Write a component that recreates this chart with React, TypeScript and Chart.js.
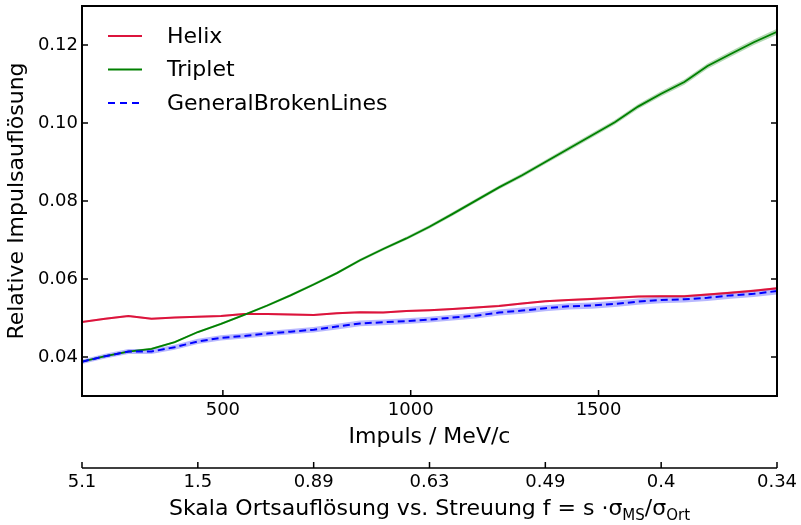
import React, { useEffect, useRef } from 'react';
import { Chart, registerables } from 'chart.js';

Chart.register(...registerables);

// ---- data ----
const momentum = [
  125, 186.7, 248.3, 310, 371.7, 433.3, 495, 556.7, 618.3, 680, 741.7,
  803.3, 865, 926.7, 988.3, 1050, 1111.7, 1173.3, 1235, 1296.7, 1358.3,
  1420, 1481.7, 1543.3, 1605, 1666.7, 1728.3, 1790, 1851.7, 1913.3, 1975,
];
const helix = [
  0.0490, 0.0498, 0.0505, 0.0498, 0.0501, 0.0503, 0.0505, 0.0510, 0.0510, 0.0509, 0.0508,
  0.0512, 0.0515, 0.0514, 0.0518, 0.0520, 0.0523, 0.0527, 0.0531, 0.0537, 0.0543,
  0.0546, 0.0549, 0.0552, 0.0555, 0.0556, 0.0556, 0.0560, 0.0565, 0.0570, 0.0576,
];
const triplet = [
  0.0388, 0.0402, 0.0414, 0.0421, 0.0438, 0.0464, 0.0485, 0.0508, 0.0532, 0.0558, 0.0586,
  0.0615, 0.0648, 0.0677, 0.0704, 0.0734, 0.0767, 0.0801, 0.0835, 0.0866, 0.0900,
  0.0934, 0.0968, 0.1002, 0.1042, 0.1075, 0.1105, 0.1146, 0.1177, 0.1207, 0.1234,
];
const gbl = [
  0.0388, 0.0402, 0.0414, 0.0414, 0.0425, 0.0440, 0.0449, 0.0454, 0.0460, 0.0465, 0.0470,
  0.0478, 0.0486, 0.0489, 0.0492, 0.0496, 0.0501, 0.0506, 0.0514, 0.0519, 0.0525,
  0.0530, 0.0532, 0.0536, 0.0542, 0.0546, 0.0548, 0.0552, 0.0558, 0.0562, 0.0569,
];
// relative uncertainty of each curve (shaded band)
const helixRelErr = 0.005;
const tripletRelErr = 0.006;
const gblRelErr = 0.015;

const yTicks = [0.04, 0.06, 0.08, 0.1, 0.12];
const xTicks = [500, 1000, 1500];
const fScaleLabels = ['5.1', '1.5', '0.89', '0.63', '0.49', '0.4', '0.34'];

const FONT = '"DejaVu Sans", "Liberation Sans", sans-serif';

const pts = (vals: number[], k = 0) => momentum.map((x, i) => ({ x, y: vals[i] * (1 + k) }));

const framePlugin = {
  id: 'framePlugin',
  afterDraw(chart: any) {
    const { ctx, chartArea: a, scales } = chart;
    const y = scales.y;
    const x = scales.x;
    const x2 = scales.x2;
    ctx.save();
    ctx.strokeStyle = '#000';
    // inward ticks
    ctx.lineWidth = 1.5;
    ctx.beginPath();
    yTicks.forEach((v) => {
      const py = y.getPixelForValue(v);
      ctx.moveTo(a.left, py);
      ctx.lineTo(a.left + 6, py);
      ctx.moveTo(a.right, py);
      ctx.lineTo(a.right - 6, py);
    });
    xTicks.forEach((v) => {
      const px = x.getPixelForValue(v);
      ctx.moveTo(px, a.bottom);
      ctx.lineTo(px, a.bottom - 6);
    });
    ctx.stroke();
    // frame
    ctx.lineWidth = 2;
    ctx.strokeRect(a.left, a.top, a.right - a.left, a.bottom - a.top);

    // secondary axis line and ticks
    const ly = x2.top;
    ctx.lineWidth = 1.5;
    ctx.beginPath();
    ctx.moveTo(x2.left, ly);
    ctx.lineTo(x2.right, ly);
    fScaleLabels.forEach((_, i) => {
      const px = x2.getPixelForValue(i);
      ctx.moveTo(px, ly);
      ctx.lineTo(px, ly - 6);
    });
    ctx.stroke();

    // secondary axis title with subscripts
    const parts = [
      { t: 'Skala Ortsauflösung vs. Streuung f = s ·σ', sub: false },
      { t: 'MS', sub: true },
      { t: '/σ', sub: false },
      { t: 'Ort', sub: true },
    ];
    const mainFont = `22px ${FONT}`;
    const subFont = `15px ${FONT}`;
    let total = 0;
    parts.forEach((p) => {
      ctx.font = p.sub ? subFont : mainFont;
      total += ctx.measureText(p.t).width;
    });
    let cx = (x2.left + x2.right) / 2 - total / 2;
    const base = x2.bottom - 10;
    ctx.fillStyle = '#000';
    ctx.textBaseline = 'alphabetic';
    ctx.textAlign = 'left';
    parts.forEach((p) => {
      ctx.font = p.sub ? subFont : mainFont;
      ctx.fillText(p.t, cx, p.sub ? base + 5 : base);
      cx += ctx.measureText(p.t).width;
    });

    // legend
    const items = [
      { label: 'Helix', color: '#dc143c', dash: [] as number[] },
      { label: 'Triplet', color: '#008000', dash: [] as number[] },
      { label: 'GeneralBrokenLines', color: '#0000ff', dash: [7, 5] },
    ];
    ctx.font = `22px ${FONT}`;
    ctx.textBaseline = 'middle';
    items.forEach((it, i) => {
      const yy = a.top + 30 + i * 33.5;
      ctx.strokeStyle = it.color;
      ctx.lineWidth = 1.8;
      ctx.setLineDash(it.dash);
      ctx.beginPath();
      ctx.moveTo(a.left + 26, yy);
      ctx.lineTo(a.left + 60, yy);
      ctx.stroke();
      ctx.setLineDash([]);
      ctx.fillStyle = '#000';
      ctx.fillText(it.label, a.left + 85, yy + 1);
    });
    ctx.restore();
  },
};

export default function App() {
  const ref = useRef<HTMLCanvasElement | null>(null);
  useEffect(() => {
    document.body.style.margin = '0';
    const canvas = ref.current;
    if (!canvas) return;
    const band = (vals: number[], rel: number, color: string, ord: number) => [
      { label: '_lo', data: pts(vals, -rel), borderWidth: 0, pointRadius: 0, fill: false, order: ord },
      { label: '_hi', data: pts(vals, rel), borderWidth: 0, pointRadius: 0, fill: '-1', backgroundColor: color, order: ord },
    ];
    const noGrid = { display: false, drawTicks: false };
    const chart = new Chart(canvas, {
      type: 'line',
      data: {
        datasets: [
          { label: 'Helix', data: pts(helix), borderColor: '#dc143c', borderWidth: 2, pointRadius: 0, fill: false, tension: 0, order: 3 },
          { label: 'Triplet', data: pts(triplet), borderColor: '#008000', borderWidth: 1.8, pointRadius: 0, fill: false, tension: 0, order: 2 },
          { label: 'GeneralBrokenLines', data: pts(gbl), borderColor: '#0000ff', borderWidth: 2, borderDash: [7, 4], pointRadius: 0, fill: false, tension: 0, order: 1 },
          ...band(helix, helixRelErr, 'rgba(220,20,60,0.3)', 12),
          ...band(triplet, tripletRelErr, 'rgba(0,128,0,0.3)', 11),
          ...band(gbl, gblRelErr, 'rgba(0,0,255,0.28)', 10),
        ] as any,
      },
      options: {
        animation: false,
        responsive: false,
        devicePixelRatio: 1,
        layout: { padding: { left: 0, right: 24, top: 6, bottom: 0 } },
        plugins: { legend: { display: false }, tooltip: { enabled: false } },
        scales: {
          x: {
            type: 'linear',
            position: 'bottom',
            min: 125,
            max: 1975,
            grid: noGrid,
            border: { display: false },
            afterBuildTicks: (s: any) => { s.ticks = xTicks.map((v) => ({ value: v })); },
            afterFit: (s: any) => { s.height = 72; s.paddingLeft = 0; s.paddingRight = 0; },
            ticks: { color: '#000', padding: 4, maxRotation: 0, font: { family: FONT, size: 18 }, callback: (v: any) => String(v) },
            title: { display: true, text: 'Impuls / MeV/c', color: '#000', font: { family: FONT, size: 22 }, padding: { top: 0, bottom: 18 } },
          },
          x2: {
            type: 'linear',
            position: 'bottom',
            weight: 1,
            min: 0,
            max: fScaleLabels.length - 1,
            grid: noGrid,
            border: { display: false },
            afterBuildTicks: (s: any) => { s.ticks = fScaleLabels.map((_, i) => ({ value: i })); },
            afterFit: (s: any) => { s.height = 57; s.paddingLeft = 0; s.paddingRight = 0; },
            ticks: { color: '#000', padding: 4, maxRotation: 0, autoSkip: false, font: { family: FONT, size: 18 }, callback: (v: any) => fScaleLabels[Math.round(v)] },
          },
          y: {
            type: 'linear',
            min: 0.03,
            max: 0.13,
            grid: noGrid,
            border: { display: false },
            afterBuildTicks: (s: any) => { s.ticks = yTicks.map((v) => ({ value: v })); },
            afterFit: (s: any) => { s.width = 82; s.paddingTop = 0; s.paddingBottom = 0; },
            ticks: { color: '#000', padding: 4, font: { family: FONT, size: 18 }, callback: (v: any) => Number(v).toFixed(2) },
            title: { display: true, text: 'Relative Impulsauflösung', color: '#000', font: { family: FONT, size: 22 }, padding: { top: 4, bottom: 0 } },
          },
        },
      } as any,
      plugins: [framePlugin],
    });
    return () => chart.destroy();
  }, []);
  return <canvas ref={ref} width={801} height={525} style={{ display: 'block', width: 801, height: 525 }} />;
}
